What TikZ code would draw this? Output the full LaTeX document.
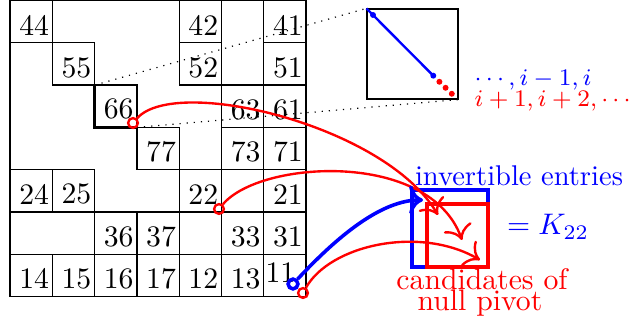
\documentclass[tikz,border=0pt]{standalone}
\usetikzlibrary{arrows.meta}
\begin{document}
\begin{tikzpicture}[x=0.011820cm,y=-0.011820cm,
  cellbox/.style={draw,minimum size=0.5cm,inner sep=0pt,outer sep=0pt},
  num/.style={inner sep=0pt},
  pin/.style={circle,draw=red,thick,inner sep=0pt,minimum size=3.3pt},
  bluepin/.style={circle,draw=blue,very thick,inner sep=0pt,minimum size=3.3pt},
  redarr/.style={red,thick,-{To[scale=1.4]}},
  bluearr/.style={blue,very thick,-{To[scale=1.1]}},
  lbl/.style={inner sep=0pt,anchor=base},
  midfont/.style={font=\fontsize{9.6}{11.5}\selectfont}
]
\useasboundingbox (0,0) rectangle (636,324);

% outer frame of the matrix
\draw (10,0.5) rectangle (306.1,296.6);

% entries
\foreach \r/\c/\t in {0/0/44,1/1/55,3/3/77,0/4/42,1/4/52,0/6/41,1/6/51,2/5/63,2/6/61,3/5/73,3/6/71,4/0/24,4/1/25,4/4/22,4/6/21,5/2/36,5/3/37,5/5/33,5/6/31,6/0/14,6/1/15,6/2/16,6/3/17,6/4/12,6/5/13}{
  \node[cellbox] (b\t) at ({31.15+42.3*\c},{21.65+42.3*\r}) {};
  \node[num] (t\t) at ([shift={(3,3.5)}]b\t.center) {\t};
}
\node[cellbox,thick] (b66) at ({31.15+42.3*2},{21.65+42.3*2}) {};
\node[num] (t66) at ([shift={(3,3)}]b66.center) {66};
\node[cellbox] (b11) at ({31.15+42.3*6},{21.65+42.3*6}) {};
\node[num] (t11) at ([shift={(-4.5,-2.5)}]b11.center) {11};

% inset
\node[draw,inner sep=0pt,minimum width=1.076cm,minimum height=1.064cm] (inset) at (412.5,54) {};
\draw[dotted] (b66.north west) -- (inset.north west);
\draw[dotted] (b66.south east) -- (inset.south east);
\coordinate (d1) at (373,15);
\coordinate (d2) at (433.3,75.7);
\draw[blue,thick] (inset.north west) -- (d2);
\fill[blue] (d1) circle (1pt) (d2) circle (1pt);
\fill[red] (439.4,81.8) circle (1pt) (445.6,87.8) circle (1pt) (451.8,93.8) circle (1pt);
\node[lbl,anchor=base west,blue,font=\footnotesize] (lo) at (474,86) {$\cdots,i-1,i$};
\node[lbl,anchor=base west,red,font=\footnotesize] (hi) at (474,107) {$i+1,i+2,\cdots$};

% K22 blocks
\draw[blue,very thick] (412,190) rectangle (488,267);
\draw[red,very thick] (427,204) rectangle (488,267);
\node[lbl,blue,midfont] (inv) at (519,186) {invertible entries};
\node[lbl,blue,midfont] (K) at (548,235) {$=K_{22}$};
\node[lbl,red] (cand1) at (482,290) {candidates of};
\node[lbl,red] (cand2) at (480,310.5) {null pivot};

% arrows
\coordinate (e66) at (438,215);
\coordinate (e22) at (462,240);
\coordinate (e11r) at (480,260);
\coordinate (e11b) at (423,200);
\node[pin] (c66) at (133,123) {};
\node[pin] (c22) at (219,209) {};
\node[bluepin] (c11b) at (293,284) {};
\node[pin] (c11r) at (303,293) {};
\draw[redarr] (c66) .. controls (175,75) and (385,125) .. (e66);
\draw[redarr] (c22) .. controls (260,160) and (430,150) .. (e22);
\draw[redarr] (c11r) .. controls (330,245) and (420,225) .. (e11r);
\draw[bluearr] (c11b) .. controls (325,250) and (375,200) .. (e11b);
\end{tikzpicture}
\end{document}
